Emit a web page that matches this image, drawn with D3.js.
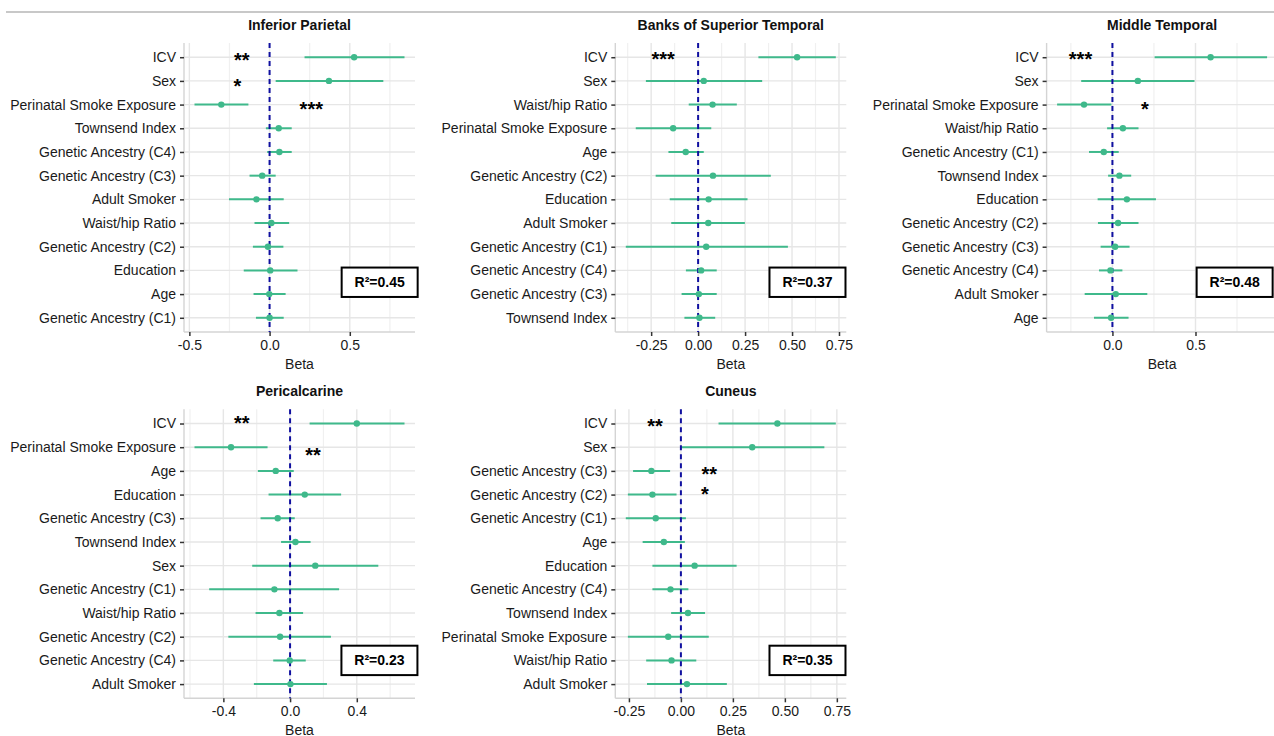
<html>
<head>
<meta charset="UTF-8">
<script src="https://cdn.jsdelivr.net/npm/d3@7"></script>
<style>
body { margin: 0; background: #fff; }
text { font-family: "Liberation Sans", Arial, sans-serif; }
</style>
</head>
<body>
<div class="chart"></div>
<script>

// Inferior Parietal
var ipCats = ["ICV", "Sex", "Perinatal Smoke Exposure", "Townsend Index", "Genetic Ancestry (C4)", "Genetic Ancestry (C3)",
              "Adult Smoker", "Waist/hip Ratio", "Genetic Ancestry (C2)", "Education", "Age", "Genetic Ancestry (C1)"];
var ipBeta = [0.527, 0.370, -0.301, 0.057, 0.061, -0.046, -0.082, 0.011, -0.010, 0.004, -0.002, 0.000];
var ipLow  = [0.218, 0.038, -0.468, -0.023, -0.015, -0.125, -0.253, -0.094, -0.104, -0.161, -0.100, -0.085];
var ipHigh = [0.841, 0.709, -0.132, 0.138, 0.138, 0.038, 0.088, 0.122, 0.086, 0.174, 0.100, 0.088];
var ipStars = [["**", -0.173, -0.07], ["*", -0.20, 1.04], ["***", 0.26, 2]];

// Banks of Superior Temporal
var bstCats = ["ICV", "Sex", "Waist/hip Ratio", "Perinatal Smoke Exposure", "Age", "Genetic Ancestry (C2)",
               "Education", "Adult Smoker", "Genetic Ancestry (C1)", "Genetic Ancestry (C4)", "Genetic Ancestry (C3)", "Townsend Index"];
var bstBeta = [0.527, 0.030, 0.077, -0.133, -0.066, 0.079, 0.056, 0.054, 0.043, 0.016, 0.004, 0.007];
var bstLow  = [0.321, -0.278, -0.050, -0.332, -0.158, -0.226, -0.151, -0.143, -0.385, -0.065, -0.088, -0.073];
var bstHigh = [0.733, 0.341, 0.206, 0.070, 0.030, 0.387, 0.263, 0.249, 0.478, 0.099, 0.099, 0.091];
var bstStars = [["***", -0.186, -0.1]];

// Middle Temporal
var mtCats = ["ICV", "Sex", "Perinatal Smoke Exposure", "Waist/hip Ratio", "Genetic Ancestry (C1)", "Townsend Index",
              "Education", "Genetic Ancestry (C2)", "Genetic Ancestry (C3)", "Genetic Ancestry (C4)", "Adult Smoker", "Age"];
var mtBeta = [0.591, 0.153, -0.171, 0.063, -0.052, 0.042, 0.087, 0.034, 0.016, -0.012, 0.020, -0.008];
var mtLow  = [0.254, -0.188, -0.333, -0.032, -0.141, -0.026, -0.089, -0.087, -0.071, -0.081, -0.167, -0.111];
var mtHigh = [0.931, 0.494, -0.006, 0.157, 0.038, 0.113, 0.262, 0.157, 0.103, 0.060, 0.210, 0.097];
var mtStars = [["***", -0.192, -0.1], ["*", 0.196, 2]];

// Pericalcarine
var pcCats = ["ICV", "Perinatal Smoke Exposure", "Age", "Education", "Genetic Ancestry (C3)", "Townsend Index",
              "Sex", "Genetic Ancestry (C1)", "Waist/hip Ratio", "Genetic Ancestry (C2)", "Genetic Ancestry (C4)", "Adult Smoker"];
var pcBeta = [0.400, -0.354, -0.086, 0.088, -0.074, 0.032, 0.151, -0.094, -0.064, -0.060, -0.002, 0.002];
var pcLow  = [0.117, -0.573, -0.193, -0.129, -0.177, -0.054, -0.227, -0.485, -0.207, -0.370, -0.101, -0.217];
var pcHigh = [0.686, -0.135, 0.022, 0.306, 0.028, 0.123, 0.529, 0.294, 0.078, 0.245, 0.094, 0.221];
var pcStars = [["**", -0.290, -0.2], ["**", 0.137, 1.17]];

// Cuneus
var cuCats = ["ICV", "Sex", "Genetic Ancestry (C3)", "Genetic Ancestry (C2)", "Genetic Ancestry (C1)", "Age",
              "Education", "Genetic Ancestry (C4)", "Townsend Index", "Perinatal Smoke Exposure", "Waist/hip Ratio", "Adult Smoker"];
var cuBeta = [0.464, 0.343, -0.142, -0.137, -0.121, -0.082, 0.066, -0.050, 0.034, -0.061, -0.045, 0.029];
var cuLow  = [0.181, 0.000, -0.230, -0.255, -0.265, -0.184, -0.137, -0.137, -0.047, -0.255, -0.167, -0.163];
var cuHigh = [0.745, 0.690, -0.052, -0.021, 0.024, 0.019, 0.268, 0.036, 0.116, 0.134, 0.074, 0.221];
var cuStars = [["**", -0.124, -0.07], ["**", 0.136, 1.96], ["*", 0.115, 2.82]];

var titles = ["Inferior Parietal", "Banks of Superior Temporal", "Middle Temporal", "Pericalcarine", "Cuneus"];
var r2Labels = ["R\u00B2=0.45", "R\u00B2=0.37", "R\u00B2=0.48", "R\u00B2=0.23", "R\u00B2=0.35"];
var tickSets = [[-0.5, 0, 0.5], [-0.25, 0, 0.25, 0.5, 0.75], [0, 0.5], [-0.4, 0, 0.4], [-0.25, 0, 0.25, 0.5, 0.75]];
var tickFormats = [".1f", ".2f", ".1f", ".1f", ".2f"];

var panels = [
  {cats: ipCats, beta: ipBeta, lo: ipLow, hi: ipHigh, stars: ipStars, col: 0, row: 0, boxX: 0.847, boxRow: 9.5},
  {cats: bstCats, beta: bstBeta, lo: bstLow, hi: bstHigh, stars: bstStars, col: 1, row: 0, boxX: 0.832, boxRow: 9.5},
  {cats: mtCats, beta: mtBeta, lo: mtLow, hi: mtHigh, stars: mtStars, col: 2, row: 0, boxX: 0.814, boxRow: 9.5},
  {cats: pcCats, beta: pcBeta, lo: pcLow, hi: pcHigh, stars: pcStars, col: 0, row: 1, boxX: 0.846, boxRow: 10},
  {cats: cuCats, beta: cuBeta, lo: cuLow, hi: cuHigh, stars: cuStars, col: 1, row: 1, boxX: 0.832, boxRow: 10}
];

var W = 1274, H = 736;
var plotW = 231, plotH = 289;
var green = "#3fb98b";

var locale = d3.formatLocale({decimal: ".", thousands: ",", grouping: [3], currency: ["", ""], minus: "-"});

var svg = d3.select(".chart").append("svg")
    .attr("width", W)
    .attr("height", H);

// thin rule across the top
svg.append("line")
    .attr("x1", 6).attr("x2", W)
    .attr("y1", 12).attr("y2", 12)
    .style("stroke", "#c8c8c8")
    .style("stroke-width", 2);

panels.forEach(function(p, i) {
  var left = 184 + p.col * 431.3,
      top = 43 + p.row * 366.3;

  var g = svg.append("g")
      .attr("transform", "translate(" + left + "," + top + ")");

  var ext = d3.extent(p.lo.concat(p.hi));
  var pad = (ext[1] - ext[0]) * 0.05;
  var x = d3.scaleLinear().domain([ext[0] - pad, ext[1] + pad]).range([0, plotW]);
  var y = d3.scalePoint().domain(p.cats).range([0, plotH]).padding(0.6);
  var step = y.step();
  var rowY = function(r) { return y(p.cats[0]) + r * step; };

  // minor grid halfway between the breaks
  var ticks = tickSets[i];
  var half = (ticks[1] - ticks[0]) / 2;
  var minor = [];
  for (var k = -1; k < ticks.length; k++) {
    var v = (k < 0 ? ticks[0] - half : ticks[k] + half);
    if (v > x.domain()[0] && v < x.domain()[1]) minor.push(v);
  }

  g.selectAll(".minor")
      .data(minor)
    .enter().append("line")
      .attr("x1", function(d) { return x(d); })
      .attr("x2", function(d) { return x(d); })
      .attr("y1", 0).attr("y2", plotH)
      .style("stroke", "#f0f0f0")
      .style("stroke-width", 1.2);

  g.selectAll(".vgrid")
      .data(ticks)
    .enter().append("line")
      .attr("x1", function(d) { return x(d); })
      .attr("x2", function(d) { return x(d); })
      .attr("y1", 0).attr("y2", plotH)
      .style("stroke", "#e6e6e6")
      .style("stroke-width", 1.4);

  g.selectAll(".hgrid")
      .data(p.cats)
    .enter().append("line")
      .attr("x1", 0).attr("x2", plotW)
      .attr("y1", function(d) { return y(d); })
      .attr("y2", function(d) { return y(d); })
      .style("stroke", "#e6e6e6")
      .style("stroke-width", 1.4);

  // axis lines
  g.append("line")
      .attr("x1", 0).attr("x2", 0).attr("y1", 0).attr("y2", plotH)
      .style("stroke", "#d4d4d4").style("stroke-width", 1.4);
  g.append("line")
      .attr("x1", 0).attr("x2", plotW).attr("y1", plotH).attr("y2", plotH)
      .style("stroke", "#d4d4d4").style("stroke-width", 1.4);

  var rows = p.cats.map(function(c, j) {
    return {cat: c, beta: p.beta[j], lo: p.lo[j], hi: p.hi[j]};
  });

  g.selectAll(".bar")
      .data(rows)
    .enter().append("line")
      .attr("x1", function(d) { return x(d.lo); })
      .attr("x2", function(d) { return x(d.hi); })
      .attr("y1", function(d) { return y(d.cat); })
      .attr("y2", function(d) { return y(d.cat); })
      .style("stroke", green)
      .style("stroke-width", 2);

  // zero line
  g.append("line")
      .attr("x1", x(0)).attr("x2", x(0))
      .attr("y1", 0).attr("y2", plotH)
      .style("stroke", "#1010a0")
      .style("stroke-width", 2)
      .style("stroke-dasharray", "5,4");

  g.selectAll(".dot")
      .data(rows)
    .enter().append("circle")
      .attr("cx", function(d) { return x(d.beta); })
      .attr("cy", function(d) { return y(d.cat); })
      .attr("r", 3.2)
      .style("fill", green);

  // axes
  var yAxis = d3.axisLeft(y).tickSize(4).tickPadding(4);
  var ya = g.append("g").call(yAxis);
  ya.select(".domain").remove();
  ya.selectAll("line").style("stroke", "#333").style("stroke-width", 1.5);
  ya.selectAll("text").style("font-size", "14px").style("fill", "#1a1a1a")
      .style("font-family", "'Liberation Sans', Arial, sans-serif");

  var xAxis = d3.axisBottom(x).tickValues(ticks).tickFormat(locale.format(tickFormats[i]))
      .tickSize(4).tickPadding(4);
  var xa = g.append("g").attr("transform", "translate(0," + plotH + ")").call(xAxis);
  xa.select(".domain").remove();
  xa.selectAll("line").style("stroke", "#333").style("stroke-width", 1.5);
  xa.selectAll("text").style("font-size", "14px").style("fill", "#1a1a1a")
      .style("font-family", "'Liberation Sans', Arial, sans-serif");

  g.append("text")
      .attr("x", plotW / 2)
      .attr("y", plotH + 36.5)
      .style("text-anchor", "middle")
      .style("font-size", "14px")
      .style("fill", "#1a1a1a")
      .text("Beta");

  g.append("text")
      .attr("x", plotW / 2)
      .attr("y", -13.5)
      .style("text-anchor", "middle")
      .style("font-size", "14px")
      .style("font-weight", "bold")
      .style("fill", "#111")
      .text(titles[i]);

  // significance stars
  g.selectAll(".star")
      .data(p.stars)
    .enter().append("text")
      .attr("x", function(d) { return x(d[1]); })
      .attr("y", function(d) { return rowY(d[2]) + 11; })
      .style("text-anchor", "middle")
      .style("font-size", "20px")
      .style("font-weight", "bold")
      .style("fill", "#000")
      .text(function(d) { return d[0]; });

  // R2 box
  var bx = p.boxX * plotW, by = rowY(p.boxRow);
  g.append("rect")
      .attr("x", bx - 38).attr("y", by - 14.7)
      .attr("width", 76).attr("height", 29.4)
      .style("fill", "#fff")
      .style("stroke", "#000")
      .style("stroke-width", 2);
  g.append("text")
      .attr("x", bx).attr("y", by + 5)
      .style("text-anchor", "middle")
      .style("font-size", "14px")
      .style("font-weight", "bold")
      .style("fill", "#000")
      .text(r2Labels[i]);
});

</script>
</body>
</html>
